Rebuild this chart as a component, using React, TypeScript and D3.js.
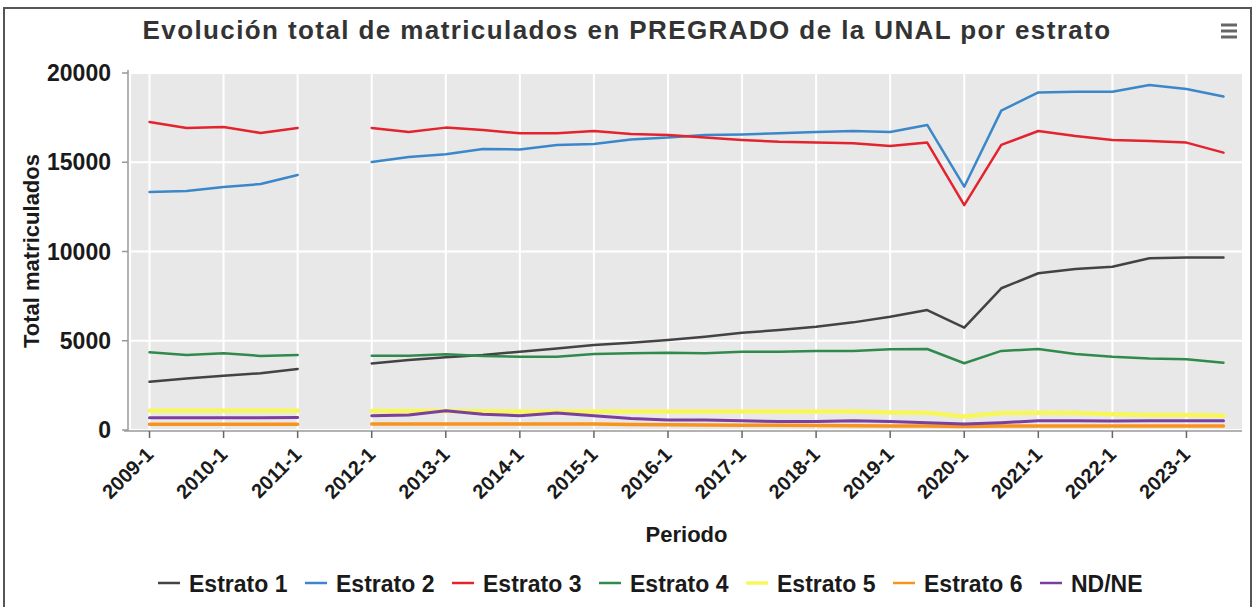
import React from "react";
import * as d3 from "d3";

// Periodos académicos (2011-2 sin datos)
const periods = [
  "2009-1", "2009-2", "2010-1", "2010-2", "2011-1", "2011-2",
  "2012-1", "2012-2", "2013-1", "2013-2", "2014-1", "2014-2",
  "2015-1", "2015-2", "2016-1", "2016-2", "2017-1", "2017-2",
  "2018-1", "2018-2", "2019-1", "2019-2", "2020-1", "2020-2",
  "2021-1", "2021-2", "2022-1", "2022-2", "2023-1", "2023-2",
];

const estrato1 = [2700, 2890, 3040, 3180, 3420, null, 3730, 3920, 4070, 4200, 4390, 4570, 4760, 4890, 5040, 5230, 5450, 5600, 5790, 6030, 6350, 6720, 5730, 7940, 8780, 9020, 9150, 9620, 9670, 9670];
const estrato2 = [13330, 13390, 13610, 13780, 14290, null, 15010, 15290, 15450, 15740, 15720, 15970, 16020, 16280, 16380, 16530, 16560, 16620, 16700, 16750, 16700, 17090, 13630, 17890, 18910, 18950, 18950, 19330, 19100, 18680];
const estrato3 = [17260, 16920, 16980, 16640, 16920, null, 16920, 16700, 16940, 16810, 16620, 16620, 16750, 16580, 16530, 16380, 16250, 16150, 16100, 16060, 15910, 16100, 12600, 15970, 16750, 16470, 16250, 16190, 16100, 15540];
const estrato4 = [4350, 4200, 4300, 4150, 4200, null, 4160, 4160, 4240, 4150, 4110, 4110, 4260, 4300, 4330, 4300, 4390, 4390, 4430, 4430, 4520, 4540, 3740, 4430, 4540, 4260, 4110, 4010, 3960, 3770];
const estrato5 = [1080, 1080, 1080, 1080, 1080, null, 1060, 1060, 1060, 1050, 1040, 1040, 1030, 1030, 1030, 1030, 1030, 1030, 1030, 1030, 980, 970, 750, 950, 970, 950, 880, 840, 840, 800];
const estrato6 = [320, 320, 320, 320, 320, null, 330, 330, 340, 340, 340, 330, 330, 310, 290, 280, 270, 260, 250, 240, 230, 220, 190, 220, 230, 230, 220, 220, 220, 220];
const ndne = [690, 690, 690, 690, 700, null, 800, 840, 1080, 880, 800, 950, 800, 650, 560, 560, 520, 470, 470, 520, 470, 410, 340, 410, 520, 520, 500, 520, 520, 520];

const seriesNames = ["Estrato 1", "Estrato 2", "Estrato 3", "Estrato 4", "Estrato 5", "Estrato 6", "ND/NE"];
const seriesValues = [estrato1, estrato2, estrato3, estrato4, estrato5, estrato6, ndne];
const yTicks = [0, 5000, 10000, 15000, 20000];

const colors = ["#434343", "#3b87c9", "#e3232d", "#2f8a4c", "#f7f75c", "#f7941e", "#7b3f9e"];
const widths = [2.5, 2.5, 2.5, 2.5, 4.5, 3.5, 3];

const FONT = "'Liberation Sans', Arial, sans-serif";

export default function App() {
  const W = 1254, H = 607;
  const plot = { left: 131, right: 1242, top: 72, bottom: 430 };

  const x = d3.scalePoint<string>().domain(periods).range([plot.left, plot.right]).padding(0.5);
  const y = d3.scaleLinear().domain([0, 20000]).range([plot.bottom, 73]);

  const line = d3
    .line<number | null>()
    .defined((d) => d != null)
    .x((_, i) => x(periods[i]) as number)
    .y((d) => y(d as number));

  const labelPeriods = periods.filter((p) => p.endsWith("-1"));

  return (
    <svg width={W} height={H} style={{ position: "absolute", left: 0, top: 0, fontFamily: FONT }}>
      <rect x={0} y={0} width={W} height={H} fill="#fff" />
      <rect x={4} y={8} width={1247} height={H + 10} fill="none" stroke="#555" strokeWidth={2} />

      {/* titulo */}
      <text x={W / 2} y={39} textAnchor="middle" fontSize={26} fontWeight="bold" fill="#333" letterSpacing={1.4}>
        Evolución total de matriculados en PREGRADO de la UNAL por estrato
      </text>
      <g stroke="#666" strokeWidth={3}>
        {[25, 31, 37].map((yy) => (
          <line key={yy} x1={1221} x2={1237} y1={yy} y2={yy} />
        ))}
      </g>

      {/* area del grafico */}
      <rect x={plot.left} y={plot.top} width={plot.right - plot.left} height={plot.bottom - plot.top} fill="#e8e8e8" />
      {labelPeriods.map((p) => (
        <line key={p} x1={x(p)} x2={x(p)} y1={plot.top} y2={plot.bottom} stroke="#fff" strokeWidth={2} />
      ))}
      {yTicks.map((t) => (
        <line key={t} x1={plot.left} x2={plot.right} y1={y(t)} y2={y(t)} stroke="#fff" strokeWidth={2} />
      ))}

      {/* ejes */}
      <line x1={128} x2={128} y1={plot.top - 2} y2={plot.bottom + 1} stroke="#999" strokeWidth={1.5} />
      <line x1={124} x2={plot.right} y1={plot.bottom + 1} y2={plot.bottom + 1} stroke="#999" strokeWidth={1.5} />
      {yTicks.map((t) => (
        <g key={t}>
          <line x1={122} x2={128} y1={y(t)} y2={y(t)} stroke="#999" strokeWidth={1.5} />
          <text x={111} y={y(t) + 8} textAnchor="end" fontSize={23} fontWeight="bold" fill="#1a1a1a">
            {t}
          </text>
        </g>
      ))}
      {labelPeriods.map((p) => {
        const px = x(p) as number;
        return (
          <g key={p}>
            <line x1={px} x2={px} y1={plot.bottom + 1} y2={plot.bottom + 8} stroke="#666" strokeWidth={1.5} />
            <text
              transform={`translate(${px + 5},${456}) rotate(-45)`}
              textAnchor="end"
              fontSize={20}
              fontWeight="bold"
              fill="#1a1a1a"
            >
              {p}
            </text>
          </g>
        );
      })}

      <text
        transform={`translate(39,${(plot.top + plot.bottom) / 2}) rotate(-90)`}
        textAnchor="middle"
        fontSize={22}
        fontWeight="bold"
        fill="#1a1a1a"
      >
        Total matriculados
      </text>
      <text x={(plot.left + plot.right) / 2} y={542} textAnchor="middle" fontSize={22} fontWeight="bold" fill="#1a1a1a">
        Periodo
      </text>

      {/* series */}
      {seriesValues.map((vals, i) => (
        <path
          key={seriesNames[i]}
          d={line(vals) || ""}
          fill="none"
          stroke={colors[i]}
          strokeWidth={widths[i]}
          strokeLinejoin="round"
          strokeLinecap="round"
        />
      ))}

      {/* leyenda */}
      {seriesNames.map((name, i) => {
        const lx = 158 + 147 * i;
        return (
          <g key={name}>
            <line x1={lx} x2={lx + 22} y1={583} y2={583} stroke={colors[i]} strokeWidth={i === 4 ? 3.5 : 2.5} />
            <text x={lx + 31} y={592} fontSize={23} fontWeight="bold" fill="#1a1a1a">
              {name}
            </text>
          </g>
        );
      })}
    </svg>
  );
}
